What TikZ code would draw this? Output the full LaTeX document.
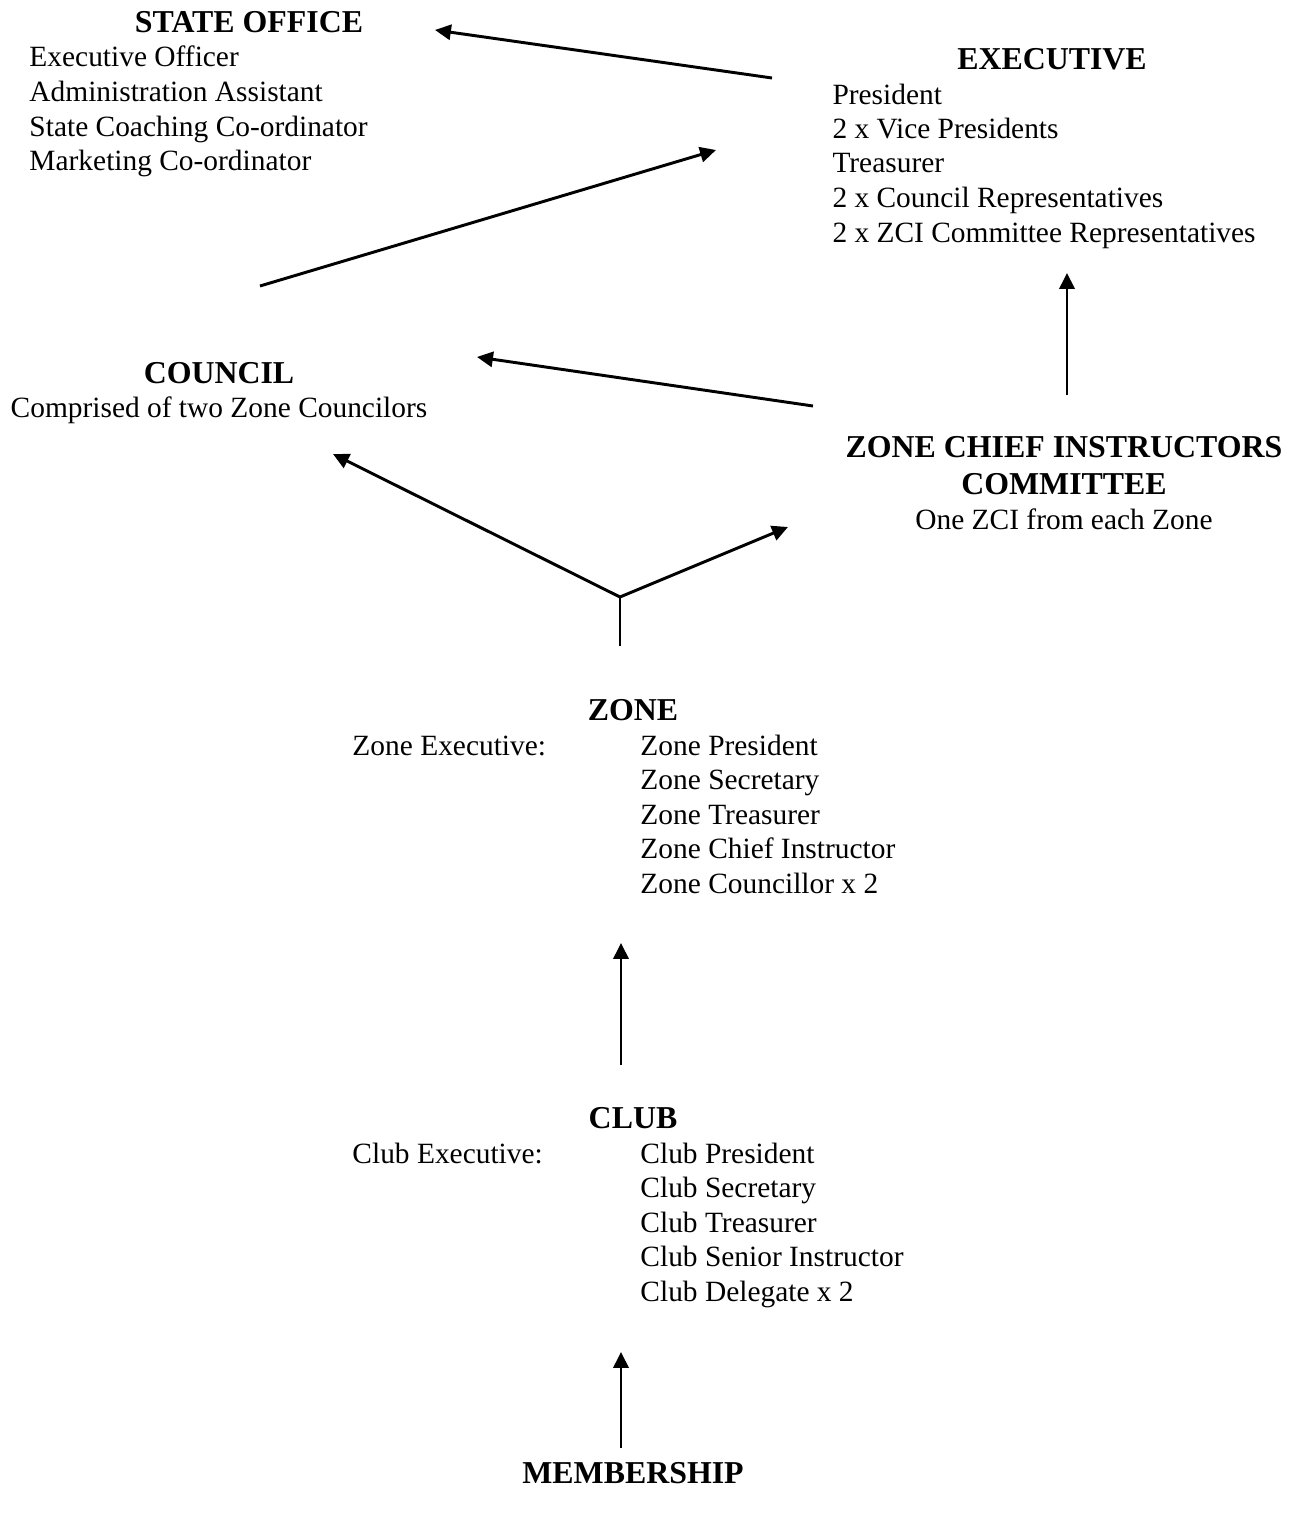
\documentclass[tikz,border=0pt]{standalone}
\usepackage{fontspec}
\setmainfont{Liberation Serif}
\usepackage{tikz}
\usetikzlibrary{arrows.meta}
\definecolor{tinta}{HTML}{000000}
\tikzset{
  texto/.style={inner sep=0pt,text=tinta,font=\fontsize{12}{14}\selectfont},
  titulo/.style={texto,anchor=base,font=\fontsize{13}{15}\selectfont\bfseries},
  linea/.style={texto,anchor=base west},
  centro/.style={texto,anchor=base},
  flecha/.style={draw=tinta,line width=1.2pt,-{Triangle[length=6.5pt,width=6.2pt]}},
  tallo/.style={draw=tinta,line width=0.8pt},
}

\begin{document}
\begin{tikzpicture}[x=0.408pt,y=-0.408pt]
  \useasboundingbox (0,0) rectangle (1297,1517);
  % titulos
  \node[titulo] (oficina) at (249,33) {STATE OFFICE};
  \node[titulo] (ejecutivo) at (1052,70) {EXECUTIVE};
  \node[titulo] (consejo) at (219,383) {COUNCIL};
  \node[titulo] (zci) at (1064,457) {ZONE CHIEF INSTRUCTORS};
  \node[titulo] (comite) at (1064,494) {COMMITTEE};
  \node[titulo] (zona) at (633,720) {ZONE};
  \node[titulo] (club) at (633,1128) {CLUB};
  \node[titulo] (socios) at (633,1483) {MEMBERSHIP};
  \node[centro] (consejotx) at (219,417) {Comprised of two Zone Councilors};
  \node[centro] (zcitx) at (1064,529) {One ZCI from each Zone};
  % listas
  \foreach \t [count=\i] in {Executive Officer,Administration Assistant,State Coaching Co-ordinator,Marketing Co-ordinator}
    \node[linea] (of\i) at (29,{67+34.6*(\i-1)}) {\t};
  \foreach \t [count=\i] in {President,2 x Vice Presidents,Treasurer,2 x Council Representatives,2 x ZCI Committee Representatives}
    \node[linea] (ej\i) at (832,{104+34.5*(\i-1)}) {\t};
  \node[linea] (zonaej) at (352,755) {Zone Executive:};
  \foreach \t [count=\i] in {Zone President,Zone Secretary,Zone Treasurer,Zone Chief Instructor,Zone Councillor x 2}
    \node[linea] (zo\i) at (640,{755+34.5*(\i-1)}) {\t};
  \node[linea] (clubej) at (352,1163) {Club Executive:};
  \foreach \t [count=\i] in {Club President,Club Secretary,Club Treasurer,Club Senior Instructor,Club Delegate x 2}
    \node[linea] (cl\i) at (640,{1163+34.5*(\i-1)}) {\t};
  % puntos de las flechas
  \coordinate (ejsal) at (772,78);   \coordinate (ofent) at (435,30);
  \coordinate (cosal) at (260,286);  \coordinate (ejent) at (716,150);
  \coordinate (zcsal) at (1067,395); \coordinate (ejent2) at (1067,273);
  \coordinate (zcsal2) at (813,406); \coordinate (coent) at (477,357);
  \coordinate (zosal) at (620,646);  \coordinate (horca) at (620,597);
  \coordinate (coent2) at (333,454); \coordinate (zcent) at (788,527);
  \coordinate (clsal) at (621,1065); \coordinate (zoent) at (621,943);
  \coordinate (sosal) at (621,1448); \coordinate (clent) at (621,1352);
  \draw[flecha] (ejsal) -- (ofent);
  \draw[flecha] (cosal) -- (ejent);
  \draw[flecha] (zcsal) -- (ejent2);
  \draw[flecha] (zcsal2) -- (coent);
  \draw[tallo] (zosal) -- (horca);
  \draw[flecha] (horca) -- (coent2);
  \draw[flecha] (horca) -- (zcent);
  \draw[flecha] (clsal) -- (zoent);
  \draw[flecha] (sosal) -- (clent);
\end{tikzpicture}
\end{document}
